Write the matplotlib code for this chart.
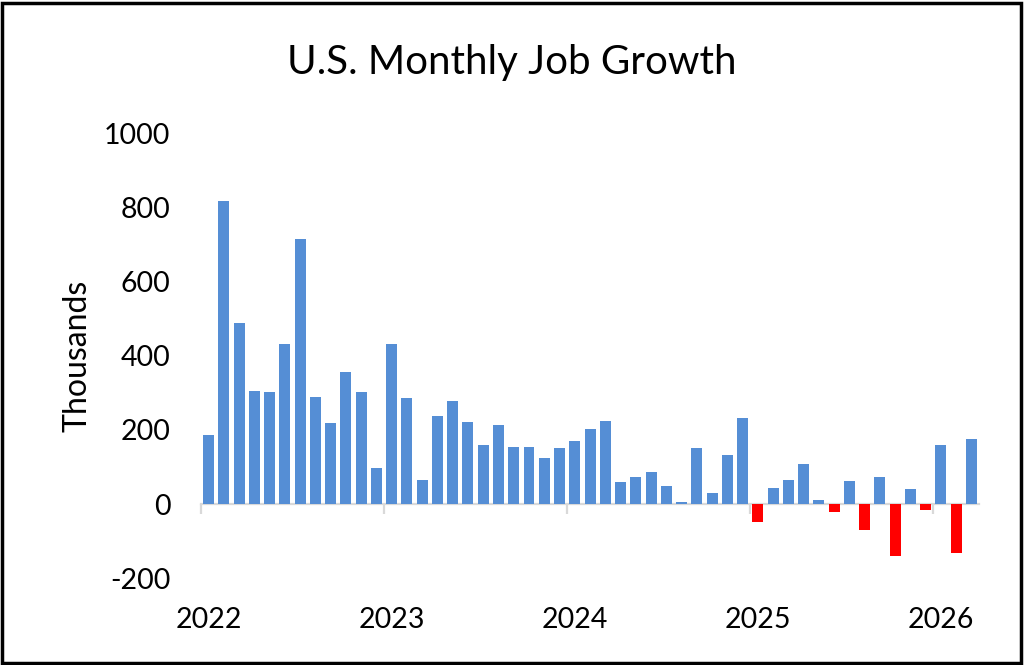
import matplotlib
matplotlib.use("Agg")
import matplotlib.pyplot as plt
from matplotlib.patches import Rectangle

plt.rcParams["font.family"] = ["Lato", "DejaVu Sans"]

# monthly payroll change, thousands, Jan 2022 .. Mar 2026
months = [f"{y}-{m:02d}" for y in range(2022, 2027) for m in range(1, 13)][:51]
jobs = [
    187, 817, 488, 305, 301, 432, 713, 288, 218, 355, 301, 98,
    430, 286, 65, 237, 277, 220, 159, 213, 153, 155, 124, 150,
    171, 202, 225, 60, 74, 85, 49, 6, 152, 30, 131, 232,
    -48, 42, 65, 108, 11, -22, 63, -70, 74, -140, 40, -17,
    160, -133, 176,
]
year_labels = ["2022", "2023", "2024", "2025", "2026"]
yticks = [-200, 0, 200, 400, 600, 800, 1000]

BLUE = "#558ed5"
RED = "#ff0000"

fig = plt.figure(figsize=(10.24, 6.65), dpi=100)
ax = fig.add_axes([0.1963, 0.1305, 0.7598, 0.6695])

x = list(range(len(jobs)))
colors = [RED if v < 0 else BLUE for v in jobs]
ax.bar(x, jobs, width=0.72, color=colors, zorder=2)

ax.set_xlim(-0.5, len(jobs) - 0.5)
ax.set_ylim(-200, 1000)
ax.set_yticks(yticks)
ax.set_yticklabels([str(t) for t in yticks])
ax.tick_params(axis="y", length=0, pad=22, labelsize=20.5)

for s in ["top", "right", "left"]:
    ax.spines[s].set_visible(False)
ax.spines["bottom"].set_position(("data", 0))
ax.spines["bottom"].set_color("#d9d9d9")
ax.spines["bottom"].set_linewidth(1.6)
ax.spines["bottom"].set_zorder(1)

# tick marks at year boundaries, labels at the bottom under January
jan_idx = [i for i, m in enumerate(months) if m.endswith("-01")]
ax.set_xticks([i - 0.5 for i in jan_idx])
ax.set_xticklabels([])
ax.tick_params(axis="x", length=7, width=1.6, color="#d9d9d9", direction="out")
for i, lab in zip(jan_idx, year_labels):
    ax.text(i, -0.094, lab, transform=ax.get_xaxis_transform(),
            ha="center", va="center", fontsize=20.5)

ax.set_ylabel("Thousands", fontsize=23, labelpad=8.5)
fig.text(0.5, 0.906, "U.S. Monthly Job Growth", ha="center", va="center", fontsize=29)

fig.patches.append(Rectangle((0.002, 0.003), 0.995, 0.993, transform=fig.transFigure,
                             fill=False, edgecolor="black", linewidth=2.5))

fig.savefig("out.png", dpi=100)
